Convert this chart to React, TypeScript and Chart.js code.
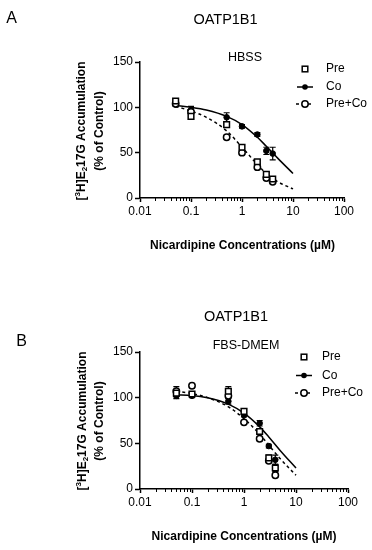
import React, { useEffect, useRef } from "react";
import { Chart, registerables } from "chart.js";

Chart.register(...registerables);

const FONT = '"Liberation Sans", Arial, Helvetica, sans-serif';

// ---------- data ----------
const concentrations = [0.05, 0.1, 0.5, 1, 2, 3, 4];
const fitConcentrations = [0.05, 0.1, 0.2, 0.5, 1, 2, 3, 5, 10];

const seriesLabels = ["Pre", "Co", "Pre+Co"];

// Panel A: HBSS
const hbssPre = [107, 90, 81, 56, 40, 26, 21];
const hbssPreErr = [2, 2, 3, 2, 2, 2, 2];
const hbssCo = [103, 97, 89, 79, 70, 52, 49];
const hbssCoErr = [2, 4, 5, 2, 2, 4, 7];
const hbssPreCo = [104, 95, 67, 50, 34, 22, 18];
const hbssPreCoErr = [2, 2, 2, 2, 2, 2, 2];
const hbssCoFit = [102, 100, 97, 90, 81, 67, 57, 44, 27];
const hbssPreCoFit = [101, 96, 89, 74, 56, 37, 27, 18, 10];

// Panel B: FBS-DMEM
const dmemPre = [105, 104, 107, 85, 63, 34, 23];
const dmemPreErr = [3, 2, 5, 2, 2, 3, 4];
const dmemCo = [102, 102, 96, 81, 72, 47, 32];
const dmemCoErr = [3, 2, 3, 2, 3, 2, 5];
const dmemPreCo = [107, 113, 102, 73, 55, 31, 15];
const dmemPreCoErr = [5, 2, 2, 2, 2, 2, 2];
const dmemCoFit = [103, 102.5, 100, 93, 83, 68, 57, 42, 23];
const dmemPreCoFit = [107, 104.5, 100, 90, 77, 60, 48, 33, 15];

// axis ticks
const xDecades = [0.01, 0.1, 1, 10, 100];
const xTickLabels = ["0.01", "0.1", "1", "10", "100"];
const minorMultipliers = [2, 3, 4, 5, 6, 7, 8, 9];
const yTickValues = [0, 50, 100, 150];

const xTitle = "Nicardipine Concentrations (\u00b5M)";
const yTitleLine2 = "(% of Control)";

// ---------- helpers ----------
const isDecade = (v: number) =>
  xDecades.some((d) => Math.abs(Math.log10(v) - Math.log10(d)) < 1e-6);

const decadeLabel = (v: number) => {
  const i = xDecades.findIndex((d) => Math.abs(Math.log10(v) - Math.log10(d)) < 1e-6);
  return i >= 0 ? xTickLabels[i] : "";
};

const allXTicks: number[] = [];
xDecades.forEach((d, i) => {
  allXTicks.push(d);
  if (i < xDecades.length - 1) minorMultipliers.forEach((m) => allXTicks.push(+(d * m).toPrecision(6)));
});

function drawYTitle(ctx: CanvasRenderingContext2D, x: number, yc: number) {
  const big = `bold 12px ${FONT}`;
  const small = `bold 8px ${FONT}`;
  const segs: any[] = [
    { t: "[", f: big, dy: 0 },
    { t: "3", f: small, dy: -4 },
    { t: "H]E", f: big, dy: 0 },
    { t: "2", f: small, dy: 3 },
    { t: "17G Accumulation", f: big, dy: 0 },
  ];
  let total = 0;
  segs.forEach((s) => {
    ctx.font = s.f;
    s.w = ctx.measureText(s.t).width;
    total += s.w;
  });
  ctx.save();
  ctx.translate(x, yc);
  ctx.rotate(-Math.PI / 2);
  ctx.textBaseline = "middle";
  ctx.textAlign = "left";
  ctx.fillStyle = "#000";
  let cx = -total / 2;
  segs.forEach((s) => {
    ctx.font = s.f;
    ctx.fillText(s.t, cx, s.dy);
    cx += s.w;
  });
  ctx.restore();
}

const errorBarPlugin = {
  id: "errorBars",
  beforeDatasetsDraw(chart: any) {
    const ctx = chart.ctx;
    const xs = chart.scales.x;
    const ys = chart.scales.y;
    ctx.save();
    ctx.strokeStyle = "#000";
    ctx.lineWidth = 1.2;
    chart.data.datasets.forEach((ds: any) => {
      const errs = ds.errors;
      if (!errs) return;
      ds.data.forEach((pt: any, i: number) => {
        const e = errs[i];
        if (!e) return;
        const x = xs.getPixelForValue(pt.x);
        const yTop = ys.getPixelForValue(pt.y + e);
        const yBot = ys.getPixelForValue(pt.y - e);
        ctx.beginPath();
        ctx.moveTo(x, yTop);
        ctx.lineTo(x, yBot);
        ctx.moveTo(x - 3, yTop);
        ctx.lineTo(x + 3, yTop);
        ctx.moveTo(x - 3, yBot);
        ctx.lineTo(x + 3, yBot);
        ctx.stroke();
      });
    });
    ctx.restore();
  },
};

const panelTextPlugin = {
  id: "panelText",
  afterDraw(chart: any, _args: any, o: any) {
    const ctx: CanvasRenderingContext2D = chart.ctx;
    const xs = chart.scales.x;
    const area = chart.chartArea;
    ctx.save();
    ctx.fillStyle = "#000";
    ctx.strokeStyle = "#000";

    // minor ticks on log axis
    ctx.lineWidth = 1;
    allXTicks.forEach((v) => {
      if (isDecade(v)) return;
      const px = Math.round(xs.getPixelForValue(v)) + 0.5;
      ctx.beginPath();
      ctx.moveTo(px, area.bottom);
      ctx.lineTo(px, area.bottom + 3);
      ctx.stroke();
    });

    ctx.textBaseline = "middle";
    ctx.textAlign = "center";
    // panel letter
    ctx.font = `16px ${FONT}`;
    ctx.fillText(o.letter, o.letterX, o.letterY);
    // title
    ctx.font = `14.5px ${FONT}`;
    ctx.fillText(o.title, o.titleX, o.titleY);
    // subtitle
    ctx.font = `12.5px ${FONT}`;
    ctx.fillText(o.subtitle, o.subX, o.subY);

    // x title
    ctx.font = `bold 12px ${FONT}`;
    ctx.fillText(xTitle, o.xTitleX, o.xTitleY);

    // y title
    drawYTitle(ctx, o.yTitleX1, o.yTitleY);
    ctx.save();
    ctx.translate(o.yTitleX2, o.yTitleY);
    ctx.rotate(-Math.PI / 2);
    ctx.font = `bold 12px ${FONT}`;
    ctx.textAlign = "center";
    ctx.textBaseline = "middle";
    ctx.fillText(yTitleLine2, 0, 0);
    ctx.restore();

    // legend
    const mx = o.legendMarkerX;
    ctx.font = `12px ${FONT}`;
    ctx.textAlign = "left";
    seriesLabels.forEach((lab, i) => {
      const y = o.legendYs[i];
      ctx.lineWidth = 1.5;
      ctx.setLineDash([]);
      if (lab === "Pre") {
        ctx.fillStyle = "#fff";
        ctx.fillRect(mx - 2.8, y - 2.8, 5.6, 5.6);
        ctx.strokeRect(mx - 2.8, y - 2.8, 5.6, 5.6);
      } else if (lab === "Co") {
        ctx.beginPath();
        ctx.moveTo(mx - 8, y);
        ctx.lineTo(mx + 8, y);
        ctx.stroke();
        ctx.fillStyle = "#000";
        ctx.beginPath();
        ctx.arc(mx, y, 2.8, 0, Math.PI * 2);
        ctx.fill();
      } else {
        ctx.setLineDash([3, 3]);
        ctx.beginPath();
        ctx.moveTo(mx - 9, y);
        ctx.lineTo(mx + 9, y);
        ctx.stroke();
        ctx.setLineDash([]);
        ctx.fillStyle = "#fff";
        ctx.beginPath();
        ctx.arc(mx, y, 3.2, 0, Math.PI * 2);
        ctx.fill();
        ctx.stroke();
      }
      ctx.fillStyle = "#000";
      ctx.fillText(lab, o.legendTextX, y);
    });
    ctx.restore();
  },
};

type Panel = {
  pre: number[];
  preErr: number[];
  co: number[];
  coErr: number[];
  preCo: number[];
  preCoErr: number[];
  coFit: number[];
  preCoFit: number[];
  padding: { left: number; right: number; top: number; bottom: number };
  text: any;
};

function buildConfig(p: Panel): any {
  const pts = (vals: number[]) => concentrations.map((c, i) => ({ x: c, y: vals[i] }));
  const fit = (vals: number[]) => fitConcentrations.map((c, i) => ({ x: c, y: vals[i] }));
  const tickFont = { family: FONT, size: 12 };
  return {
    type: "scatter",
    data: {
      datasets: [
        {
          label: "Pre",
          data: pts(p.pre),
          errors: p.preErr,
          pointStyle: "rect",
          pointRadius: 4,
          pointBackgroundColor: "#fff",
          pointBorderColor: "#000",
          pointBorderWidth: 1.5,
          showLine: false,
        },
        {
          label: "Pre+Co",
          data: pts(p.preCo),
          errors: p.preCoErr,
          pointStyle: "circle",
          pointRadius: 3.2,
          pointBackgroundColor: "#fff",
          pointBorderColor: "#000",
          pointBorderWidth: 1.5,
          showLine: false,
        },
        {
          label: "Co",
          data: pts(p.co),
          errors: p.coErr,
          pointStyle: "circle",
          pointRadius: 2.8,
          pointBackgroundColor: "#000",
          pointBorderColor: "#000",
          pointBorderWidth: 1,
          showLine: false,
        },
        {
          label: "Co fit",
          data: fit(p.coFit),
          showLine: true,
          pointRadius: 0,
          borderColor: "#000",
          borderWidth: 1.5,
          cubicInterpolationMode: "monotone",
          fill: false,
        },
        {
          label: "Pre+Co fit",
          data: fit(p.preCoFit),
          showLine: true,
          pointRadius: 0,
          borderColor: "#000",
          borderWidth: 1.5,
          borderDash: [3, 3],
          cubicInterpolationMode: "monotone",
          fill: false,
        },
      ],
    },
    options: {
      responsive: false,
      animation: false,
      events: [],
      layout: { padding: p.padding },
      plugins: {
        legend: { display: false },
        tooltip: { enabled: false },
        title: { display: false },
        panelText: p.text,
      },
      scales: {
        x: {
          type: "logarithmic",
          min: 0.01,
          max: 100,
          afterBuildTicks: (scale: any) => {
            scale.ticks = allXTicks.map((v) => ({ value: v, major: isDecade(v) }));
          },
          afterFit: (scale: any) => {
            scale.height = 20;
          },
          ticks: {
            autoSkip: false,
            maxRotation: 0,
            minRotation: 0,
            color: "#000",
            font: tickFont,
            padding: 2,
            callback: (v: any) => decadeLabel(Number(v)),
          },
          grid: {
            drawOnChartArea: false,
            tickLength: 4,
            tickWidth: 1.5,
            tickColor: (c: any) => (c.tick && isDecade(c.tick.value) ? "#000" : "rgba(0,0,0,0)"),
          },
          border: { color: "#000", width: 1.5 },
        },
        y: {
          min: 0,
          max: 150,
          afterBuildTicks: (scale: any) => {
            scale.ticks = yTickValues.map((v) => ({ value: v }));
          },
          afterFit: (scale: any) => {
            scale.width = 40;
          },
          ticks: { color: "#000", font: tickFont, padding: 2 },
          grid: { drawOnChartArea: false, tickLength: 5, tickWidth: 1.5, tickColor: "#000" },
          border: { color: "#000", width: 1.5 },
        },
      },
    },
    plugins: [errorBarPlugin, panelTextPlugin],
  };
}

const panelA: Panel = {
  pre: hbssPre,
  preErr: hbssPreErr,
  co: hbssCo,
  coErr: hbssCoErr,
  preCo: hbssPreCo,
  preCoErr: hbssPreCoErr,
  coFit: hbssCoFit,
  preCoFit: hbssPreCoFit,
  padding: { left: 100, right: 28, top: 62, bottom: 57 },
  text: {
    letter: "A",
    letterX: 11.5,
    letterY: 19,
    title: "OATP1B1",
    titleX: 225.5,
    titleY: 20,
    subtitle: "HBSS",
    subX: 245,
    subY: 58,
    legendMarkerX: 305,
    legendTextX: 326,
    legendYs: [69, 87, 104],
    yTitleX1: 82,
    yTitleX2: 100,
    yTitleY: 131,
    xTitleX: 242.5,
    xTitleY: 245.5,
  },
};

const panelB: Panel = {
  pre: dmemPre,
  preErr: dmemPreErr,
  co: dmemCo,
  coErr: dmemCoErr,
  preCo: dmemPreCo,
  preCoErr: dmemPreCoErr,
  coFit: dmemCoFit,
  preCoFit: dmemPreCoFit,
  padding: { left: 100, right: 24, top: 77, bottom: 41 },
  text: {
    letter: "B",
    letterX: 21.5,
    letterY: 66.5,
    title: "OATP1B1",
    titleX: 236,
    titleY: 41.5,
    subtitle: "FBS-DMEM",
    subX: 246,
    subY: 71,
    legendMarkerX: 304,
    legendTextX: 322,
    legendYs: [82, 100.5, 118],
    yTitleX1: 83,
    yTitleX2: 100,
    yTitleY: 146,
    xTitleX: 244,
    xTitleY: 261.5,
  },
};

function PanelChart({ panel, top }: { panel: Panel; top: number }) {
  const ref = useRef<HTMLCanvasElement | null>(null);
  useEffect(() => {
    if (!ref.current) return;
    const chart = new Chart(ref.current, buildConfig(panel));
    return () => chart.destroy();
  }, [panel]);
  return (
    <div style={{ position: "absolute", left: 0, top, width: 372, height: 275 }}>
      <canvas ref={ref} width={372} height={275} style={{ width: 372, height: 275, display: "block" }} />
    </div>
  );
}

export default function App() {
  return (
    <div style={{ position: "absolute", left: 0, top: 0, width: 372, height: 550, background: "#fff" }}>
      <PanelChart panel={panelA} top={0} />
      <PanelChart panel={panelB} top={275} />
    </div>
  );
}
